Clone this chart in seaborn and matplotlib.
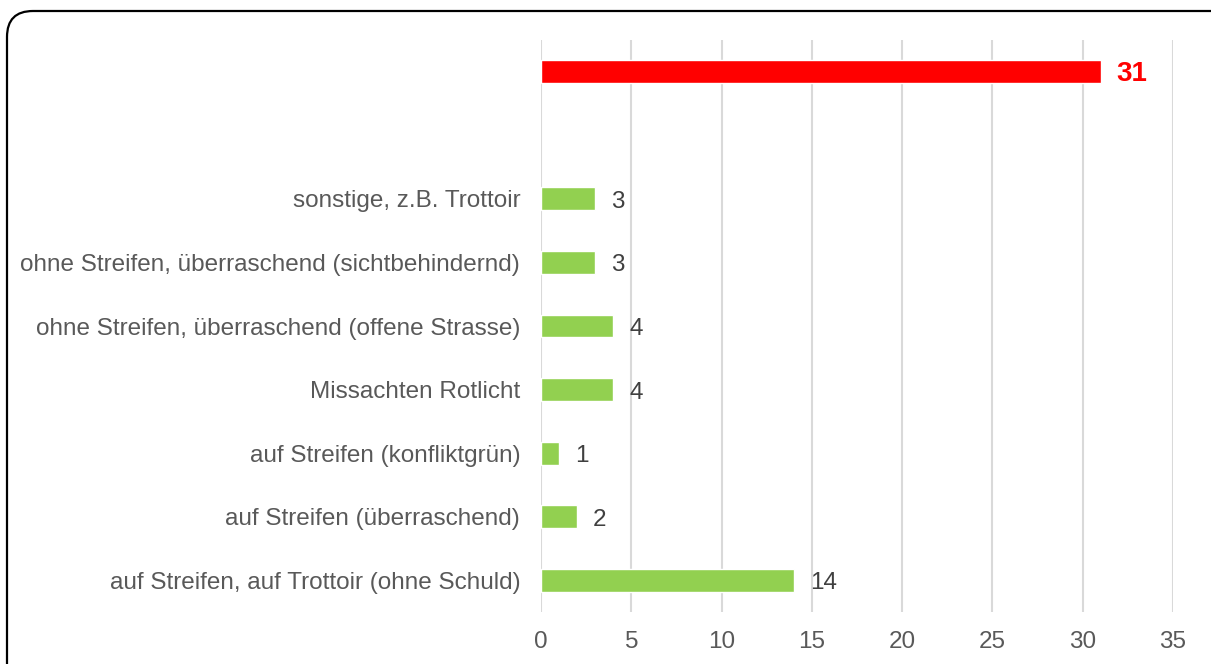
import numpy as np
import pandas as pd
import seaborn as sns
import matplotlib.pyplot as plt
from matplotlib.patches import FancyBboxPatch

# categories from top to bottom, the first two rows have no label
categories = [
    " ",
    "  ",
    "sonstige, z.B. Trottoir",
    "ohne Streifen, überraschend (sichtbehindernd)",
    "ohne Streifen, überraschend (offene Strasse)",
    "Missachten Rotlicht",
    "auf Streifen (konfliktgrün)",
    "auf Streifen (überraschend)",
    "auf Streifen, auf Trottoir (ohne Schuld)",
]
values = [31, np.nan, 3, 3, 4, 4, 1, 2, 14]
bar_colors = ["#ff0000", "#92d050", "#92d050", "#92d050", "#92d050",
              "#92d050", "#92d050", "#92d050", "#92d050"]
ticks = [0, 5, 10, 15, 20, 25, 30, 35]

data = pd.DataFrame({"cat": categories, "val": values})

sns.set_theme(style="white")
plt.rcParams["font.family"] = ["Liberation Sans", "DejaVu Sans"]

fig = plt.figure(figsize=(12.11, 6.64), dpi=100)
ax = fig.add_axes([541 / 1211, 1 - 612 / 664, (1173 - 541) / 1211, (612 - 40) / 664])

sns.barplot(data=data, y="cat", x="val", hue="cat", palette=bar_colors,
            legend=False, width=0.36, orient="h", ax=ax, saturation=1)

ax.set_xlim(0, 35)
ax.set_xticks(ticks)
ax.set_ylim(len(categories) - 0.5, -0.5)
ax.grid(axis="x", color="#d9d9d9", linewidth=1.5)
ax.set_axisbelow(True)
for s in ax.spines.values():
    s.set_visible(False)
ax.set_xlabel("")
ax.set_ylabel("")
ax.tick_params(axis="x", labelsize=17.5, labelcolor="#595959", length=0, pad=14)
ax.tick_params(axis="y", labelsize=17.5, labelcolor="#595959", length=0, pad=15)

# value labels
for i, v in enumerate(values):
    if np.isnan(v):
        continue
    if i == 0:
        ax.annotate(str(int(v)), (v, i), xytext=(16, -2), textcoords="offset pixels",
                    va="center", ha="left", fontsize=20, fontweight="bold", color="#ff0000")
    else:
        ax.annotate(str(int(v)), (v, i), xytext=(16, -3), textcoords="offset pixels",
                    va="center", ha="left", fontsize=17.5, color="#404040")

# rounded border round the chart, runs off the bottom and right edge
border = FancyBboxPatch((7, -40), 1250, 653 + 40, boxstyle="round,pad=0,rounding_size=26",
                        transform=None, fill=False, edgecolor="black", linewidth=1.6)
fig.add_artist(border)

fig.savefig("out.png", dpi=100)
